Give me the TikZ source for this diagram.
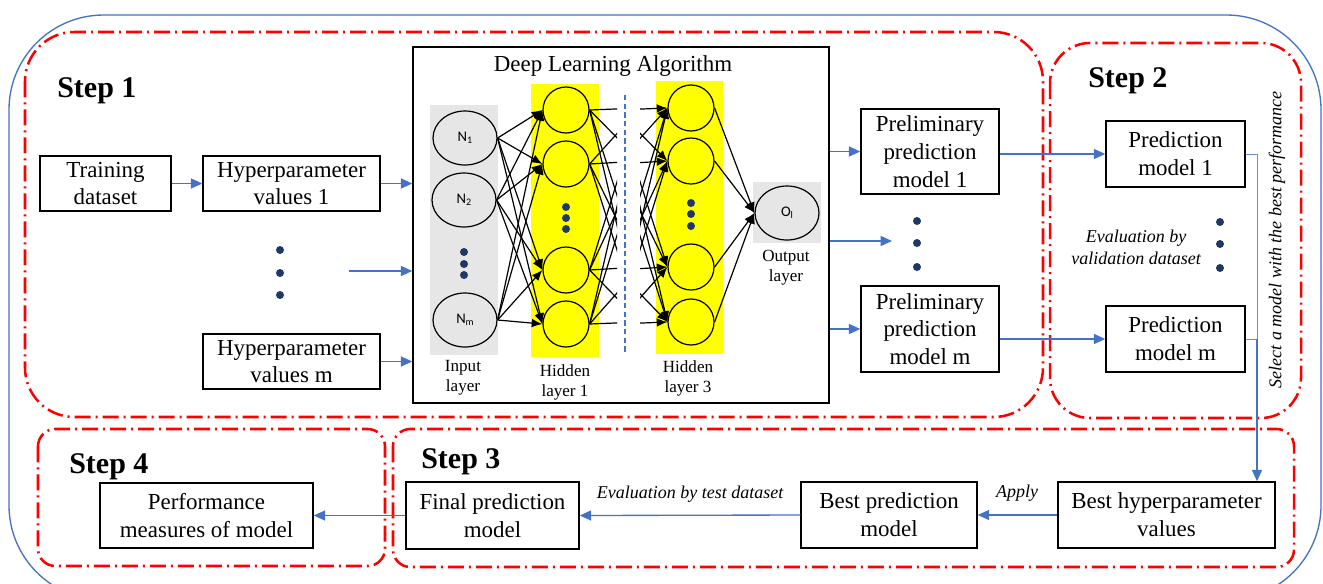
\documentclass[tikz,border=0pt]{standalone}
\usepackage{fontspec}
\setmainfont{Liberation Serif}
\newfontfamily\calib{Carlito}
\usetikzlibrary{arrows.meta,shapes.geometric}
\definecolor{oblue}{HTML}{4472C4}
\definecolor{navy}{HTML}{1F3864}
\definecolor{lgray}{HTML}{E7E6E6}
\definecolor{yel}{HTML}{FFFF00}
\newcommand{\mybox}[6]{\node[box, minimum width={0.75pt*(#4-#2)}, minimum height={0.75pt*(#5-#3)}] (#1) at ({(#2+#4)/2},{(#3+#5)/2}) {#6};}
\newcommand{\lowsub}[1]{\raisebox{-0.35ex}{\fontsize{7.5}{8}\selectfont #1}}
\begin{document}
\begin{tikzpicture}[x=0.75pt,y=-0.75pt,
  box/.style={draw=black, line width=1.1pt, fill=white, inner sep=0pt, align=center, font=\fontsize{17.2}{20.8}\selectfont},
  stepl/.style={font=\fontsize{22.5}{26}\selectfont\bfseries, anchor=base west, inner sep=0pt},
  ital/.style={font=\fontsize{13.5}{16.3}\selectfont\itshape, align=center, inner sep=0pt},
  lay/.style={font=\fontsize{12.8}{15}\selectfont, align=center, inner sep=0pt},
  barr/.style={draw=oblue, line width=1pt, -{Triangle[length=8.5pt,width=7.5pt]}},
  bthin/.style={draw=oblue!80, line width=0.7pt},
  nline/.style={draw=black, line width=0.9pt},
  narr/.style={draw=black, line width=0.9pt, -{Latex[length=8pt,width=6.5pt]}},
  reddash/.style={draw=red, line width=1.9pt, dash pattern=on 12pt off 3.75pt on 1.5pt off 3.75pt},
  hnode/.style={circle, draw, line width=0.9pt, fill=yel, minimum size=34.5pt, inner sep=0pt},
  inode/.style={ellipse, draw, line width=0.9pt, fill=lgray, minimum width=48pt, minimum height=40.5pt, inner sep=0pt, font=\calib\fontsize{11}{12}\selectfont},
  dot/.style={circle, fill=navy, minimum size=6pt, inner sep=0pt}]
\useasboundingbox (0,0) rectangle (1323,583);
% outer frame
\draw[draw=oblue, line width=1pt, rounded corners=71pt] (9,15) rectangle (1321,600);
% step frames
\draw[reddash, rounded corners=37pt] (25,32) rectangle (1043,417);
\draw[reddash, rounded corners=30pt] (1050,43) rectangle (1301,418);
\draw[reddash, rounded corners=13pt] (38,429) rectangle (385,566);
\draw[reddash, rounded corners=13pt] (393,429) rectangle (1294,567);
\node[stepl] (s1) at (57,97) {Step 1};
\node[stepl] (s2) at (1088,87) {Step 2};
\node[stepl] (s4) at (69,473) {Step 4};
\node[stepl] (s3) at (421,468) {Step 3};
% step 1 boxes
\mybox{td}{40}{156}{171}{211}{Training\\dataset}
\mybox{h1}{203}{156}{380}{211}{Hyperparameter\\values 1}
\mybox{hm}{203}{334}{380}{389}{Hyperparameter\\values m}
\node[dot] (da1) at (280,250) {};
\node[dot] (da2) at (280,273) {};
\node[dot] (da3) at (280,295) {};
% deep learning box
\mybox{dl}{413}{47}{829}{403}{}
\node[font=\fontsize{17.2}{20}\selectfont, inner sep=0pt] (dlt) at (613,66) {Deep Learning Algorithm};
\fill[lgray] (430,105) rectangle (498,355);
\fill[yel] (531,84) rectangle (599,357);
\fill[yel] (656,81) rectangle (723,354);
\fill[lgray] (753,182) rectangle (821,243);
\draw[draw=oblue, line width=0.8pt, dash pattern=on 4pt off 2.5pt] (625,95) -- (625,353);
\node[inode] (n1) at (465,138) {N\lowsub{1}};
\node[inode] (n2) at (464,200) {N\lowsub{2}};
\node[inode] (n3) at (465,320) {N\lowsub{m}};
\node[dot] (di1) at (464,252) {};
\node[dot] (di2) at (464,264) {};
\node[dot] (di3) at (464,275) {};
\node[hnode] (a1) at (566,110) {};
\node[hnode] (a2) at (566,164) {};
\node[hnode] (a3) at (566,270) {};
\node[hnode] (a4) at (566,324) {};
\node[dot] (dh1) at (566,207) {};
\node[dot] (dh2) at (566,218) {};
\node[dot] (dh3) at (566,229) {};
\node[hnode] (b1) at (691,108) {};
\node[hnode] (b2) at (691,161) {};
\node[hnode] (b3) at (691,267) {};
\node[hnode] (b4) at (691,322) {};
\node[dot] (dk1) at (691,203) {};
\node[dot] (dk2) at (691,214) {};
\node[dot] (dk3) at (691,226) {};
\node[inode] (o) at (787,213) {O\lowsub{l}};
\node[lay] (li) at (463,378) {Input\\layer};
\node[lay] (lh1) at (565,382) {Hidden\\layer 1};
\node[lay] (lh3) at (688,378) {Hidden\\layer 3};
\node[lay] (lo) at (786,268) {Output\\layer};
\foreach \i in {1,2,3} \foreach \j in {1,2,3,4} \draw[narr] (n\i.east) -- (a\j.west);
\begin{scope}
\clip (585,70) rectangle (617,370);
\foreach \i in {1,2,3,4} \foreach \y in {108,161,267,322} \draw[nline] (a\i.east) -- (640,\y);
\end{scope}
\begin{scope}
\clip (640,70) rectangle (700,370);
\foreach \y in {110,164,270,324} \foreach \j in {1,2,3,4} \draw[narr] (617,\y) -- (b\j.west);
\end{scope}
\foreach \j in {1,2,3,4} \draw[narr] (b\j.east) -- (o.west);
% arrows into DL
\draw[barr] (td.east) -- (h1.west);
\draw[barr] (h1.east) -- (h1.east -| dl.west);
\coordinate (m1) at (349,271);
\draw[barr] (m1) -- (m1 -| dl.west);
\draw[barr] (hm.east) -- (hm.east -| dl.west);
% preliminary models
\mybox{pp1}{861}{109}{999}{194}{Preliminary\\prediction\\model 1}
\mybox{ppm}{861}{286}{999}{372}{Preliminary\\prediction\\model m}
\node[dot] (dp1) at (917,221) {};
\node[dot] (dp2) at (917,243) {};
\node[dot] (dp3) at (917,267) {};
\draw[barr] (pp1.west -| dl.east) -- (pp1.west);
\coordinate (m2) at (892,241);
\draw[barr] (m2 -| dl.east) -- (m2);
\draw[barr] (ppm.west -| dl.east) -- (ppm.west);
% step 2
\mybox{pr1}{1106}{121}{1245}{187}{Prediction\\model 1}
\mybox{prm}{1106}{306}{1245}{372}{Prediction\\model m}
\draw[barr] (pr1.west -| pp1.east) -- (pr1.west);
\draw[barr] (prm.west -| ppm.east) -- (prm.west);
\node[dot] (dq1) at (1220,222) {};
\node[dot] (dq2) at (1220,244) {};
\node[dot] (dq3) at (1220,268) {};
\node[ital] (ev) at (1136,247) {Evaluation by\\validation dataset};
\node[ital, rotate=90] (sel) at (1277,240) {Select a model with the best performance};
% bottom
\mybox{bh}{1058}{482}{1275}{548}{Best hyperparameter\\values}
\mybox{bp}{801}{482}{977}{548}{Best prediction\\model}
\mybox{fp}{406}{482}{579}{549}{Final prediction\\model}
\mybox{pm}{100}{483}{313}{548}{Performance\\measures of model}
\coordinate (J) at (1257,339);
\draw[bthin] (pr1.east) -| (J);
\draw[bthin] (prm.east) -- (J);
\draw[barr] (J) -- (J |- bh.north);
\draw[barr] (bh.west) -- (bp.east);
\draw[barr] (bp.west) -- (fp.east);
\draw[barr] (fp.west) -- (pm.east);
\node[ital] (ap) at (1017,493) {Apply};
\node[ital] (et) at (690,494) {Evaluation by test dataset};
\end{tikzpicture}
\end{document}
